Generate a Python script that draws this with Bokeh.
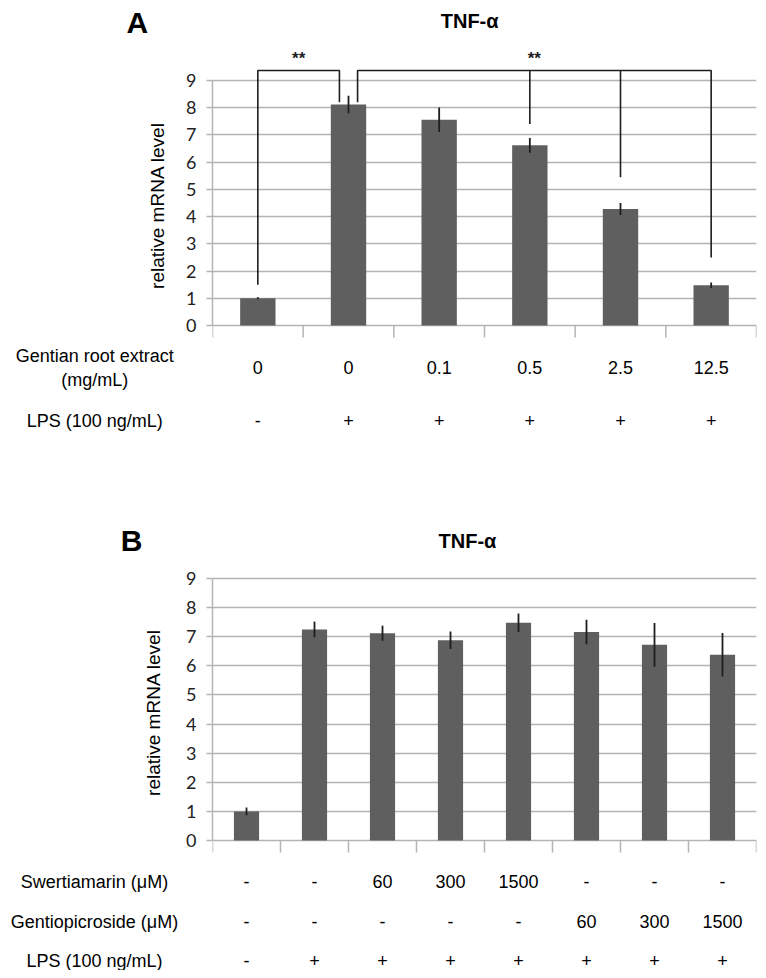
from bokeh.plotting import figure
from bokeh.models import Range1d, FixedTicker, ColumnDataSource
from bokeh.layouts import column
from bokeh.embed import file_html
from bokeh.resources import INLINE
from bokeh.core.properties import value

# ---------------- data ----------------
# Panel A: Gentian root extract
a_extract = ["0", "0", "0.1", "0.5", "2.5", "12.5"]
a_lps = ["-", "+", "+", "+", "+", "+"]
a_values = [1.0, 8.12, 7.56, 6.62, 4.28, 1.48]
a_errors = [0.04, 0.32, 0.45, 0.27, 0.22, 0.10]
# significance brackets (x in category units, leg bottoms in mRNA units)
a_sig_top = 9.37
a_br1_x = [0.5, 1.4]
a_br1_bottom = [1.5, 8.2]
a_br2_x = [1.6, 3.5, 4.5, 5.5]
a_br2_bottom = [8.2, 7.4, 5.45, 2.5]
a_sig_text = ["**", "**"]

# Panel B: Swertiamarin / Gentiopicroside
b_swert = ["-", "-", "60", "300", "1500", "-", "-", "-"]
b_gentio = ["-", "-", "-", "-", "-", "60", "300", "1500"]
b_lps = ["-", "+", "+", "+", "+", "+", "+", "+"]
b_values = [1.0, 7.25, 7.12, 6.88, 7.48, 7.16, 6.72, 6.38]
b_errors = [0.13, 0.27, 0.26, 0.30, 0.32, 0.42, 0.75, 0.75]

y_ticks = list(range(10))

FONT = "Liberation Sans"
TICKFONT = "Lato"
BAR = "#5f5f5f"
INK = "#1e1e1e"
GRID = "#b4b4b4"


class Panel:
    def __init__(self, width, height, page_top, frame_left, frame_right, y0_px, y9_px, n, bar_w):
        self.page_top = page_top
        self.frame_left = frame_left
        self.n = n
        self.unit_y = (y0_px - y9_px) / 9.0
        self.unit_x = (frame_right - frame_left) / n
        self.y0_px = y0_px
        y_hi = (y0_px - page_top) / self.unit_y
        y_lo = -(page_top + height - y0_px) / self.unit_y
        p = figure(width=width, height=height,
                   x_range=Range1d(0, n), y_range=Range1d(y_lo, y_hi),
                   x_axis_type=None, output_backend="svg", toolbar_location=None,
                   min_border_left=frame_left, min_border_right=width - frame_right,
                   min_border_top=0, min_border_bottom=0)
        p.outline_line_color = None
        p.background_fill_color = "white"
        p.xgrid.visible = False
        ax = p.yaxis[0]
        ax.ticker = FixedTicker(ticks=y_ticks)
        ax.bounds = (0, 9)
        ax.axis_line_color = GRID
        ax.axis_line_width = 1.5
        ax.major_tick_line_color = GRID
        ax.major_tick_line_width = 1.5
        ax.major_tick_out = 6
        ax.major_tick_in = 0
        ax.minor_tick_line_color = None
        ax.major_label_standoff = 10
        ax.major_label_text_font = TICKFONT
        ax.major_label_text_font_size = "18px"
        ax.major_label_text_color = "#222222"
        p.ygrid.ticker = FixedTicker(ticks=y_ticks)
        p.ygrid.grid_line_color = GRID
        p.ygrid.grid_line_width = 1.5
        # category tick marks below the zero line
        xs = list(range(n + 1))
        p.segment(x0=xs, y0=[0] * len(xs), x1=xs, y1=[-12 / self.unit_y] * len(xs),
                  line_color=GRID, line_width=1.5)
        self.p = p
        self.bar_w = bar_w

    def dx(self, page_x):
        return (page_x - self.frame_left) / self.unit_x

    def dy(self, page_y):
        return (self.y0_px - page_y) / self.unit_y

    def bars(self, values, errors):
        centers = [i + 0.5 for i in range(len(values))]
        src = ColumnDataSource(dict(x=centers, top=values,
                                    lo=[v - e for v, e in zip(values, errors)],
                                    hi=[v + e for v, e in zip(values, errors)]))
        self.p.vbar(x="x", top="top", bottom=0, width=self.bar_w, source=src,
                    fill_color=BAR, line_color=None)
        self.p.segment(x0="x", y0="lo", x1="x", y1="hi", source=src,
                       line_color=INK, line_width=1.8)

    def label(self, page_x, page_y, text, size="18px", bold=False, angle=0, font=FONT):
        self.p.text(x=[self.dx(page_x)], y=[self.dy(page_y)], text=[text],
                    text_font=value(font), text_font_size=value(size),
                    text_font_style="bold" if bold else "normal",
                    text_align="center", text_baseline="middle",
                    text_color="black", angle=angle, level="overlay")

    def row(self, page_y, texts):
        src = ColumnDataSource(dict(x=[i + 0.5 for i in range(len(texts))],
                                    y=[self.dy(page_y)] * len(texts), t=texts))
        self.p.text(x="x", y="y", text="t", source=src,
                    text_font=value(FONT), text_font_size=value("18px"),
                    text_align="center", text_baseline="middle",
                    text_color="black", level="overlay")


# ---------------- panel A ----------------
A = Panel(width=758, height=466, page_top=0, frame_left=207, frame_right=757,
          y0_px=325, y9_px=80, n=len(a_values), bar_w=0.39)
A.bars(a_values, a_errors)
pa = A.p
# bracket 1
pa.line(x=[a_br1_x[0], a_br1_x[0], a_br1_x[1], a_br1_x[1]],
        y=[a_br1_bottom[0], a_sig_top, a_sig_top, a_br1_bottom[1]],
        line_color=INK, line_width=1.6)
# bracket 2
pa.line(x=[a_br2_x[0], a_br2_x[0], a_br2_x[-1], a_br2_x[-1]],
        y=[a_br2_bottom[0], a_sig_top, a_sig_top, a_br2_bottom[-1]],
        line_color=INK, line_width=1.6)
pa.segment(x0=a_br2_x[1:-1], y0=[a_sig_top] * 2, x1=a_br2_x[1:-1], y1=a_br2_bottom[1:-1],
           line_color=INK, line_width=1.6)
star_src = ColumnDataSource(dict(
    x=[(a_br1_x[0] + a_br1_x[-1]) / 2, (a_br2_x[0] + a_br2_x[-1]) / 2],
    y=[a_sig_top + 0.45] * 2, t=a_sig_text))
pa.text(x="x", y="y", text="t", source=star_src, text_font=value(FONT),
        text_font_size=value("17px"), text_font_style="bold",
        text_align="center", text_baseline="middle", text_color=INK)
A.label(131, 22, "A", size="30px", bold=True)
A.label(467, 20, "TNF-\u03b1", size="20px", bold=True)
A.label(151, 205, "relative mRNA level", size="19px", angle=1.5707963)
A.label(88, 355, "Gentian root extract")
A.label(88, 379, "(mg/mL)")
A.row(367, a_extract)
A.label(88, 420, "LPS (100 ng/mL)")
A.row(420, a_lps)

# ---------------- panel B ----------------
B = Panel(width=758, height=504, page_top=466, frame_left=212, frame_right=756,
          y0_px=840, y9_px=578, n=len(b_values), bar_w=0.37)
B.bars(b_values, b_errors)
B.label(131, 540, "B", size="30px", bold=True)
B.label(467, 540, "TNF-\u03b1", size="20px", bold=True)
B.label(153, 712, "relative mRNA level", size="19px", angle=1.5707963)
B.label(94, 881, "Swertiamarin (\u03bcM)")
B.row(881, b_swert)
B.label(94, 921, "Gentiopicroside (\u03bcM)")
B.row(921, b_gentio)
B.label(94, 960, "LPS (100 ng/mL)")
B.row(960, b_lps)

layout = column(A.p, B.p, spacing=0)
open("out.html", "w").write(file_html(layout, INLINE))
